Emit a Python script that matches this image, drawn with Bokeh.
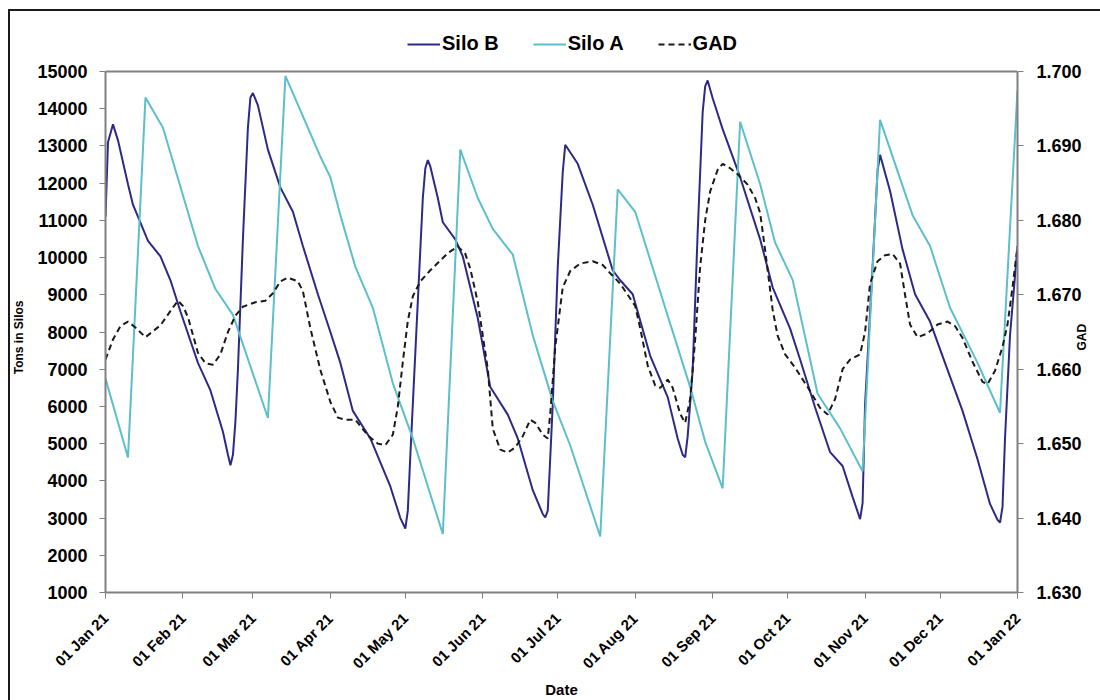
import math
import pandas as pd
from bokeh.plotting import figure
from bokeh.models import (Range1d, LinearAxis, FixedTicker, DatetimeTickFormatter,
                          NumeralTickFormatter, Legend, LegendItem, Span, InlineStyleSheet)
from bokeh.embed import file_html
from bokeh.resources import INLINE

# ---------------- data (x = days since 01 Jan 2021) ----------------
base_date = "2021-01-01"

silo_b_day = [0, 1, 3, 5, 9, 11, 17, 22, 26, 30, 37, 42, 47, 49, 50, 51, 52, 53, 55, 57, 58, 59,
              61, 65, 70, 75, 79, 85, 90, 94, 99, 106, 114, 118, 120, 121, 122, 125, 127, 128, 129,
              130, 133, 135, 140, 143, 149, 154, 161, 165, 171, 175, 176, 177, 179, 181, 183, 184,
              189, 195, 203, 206, 211, 218, 225, 229, 231, 232, 233, 235, 237, 239, 240, 241,
              243, 247, 254, 262, 267, 274, 278, 284, 290, 295, 299, 302, 303, 304, 307, 309, 310,
              314, 319, 324, 330, 337, 343, 349, 354, 357, 358, 359, 360, 362, 365]
silo_b = [11100, 13100, 13580, 13150, 11970, 11420, 10450, 10030, 9390, 8550, 7170, 6430, 5320, 4700, 4420, 4700, 5600, 7000, 10500, 13500, 14300, 14420,
          14090, 12900, 11880, 11230, 10310, 9015, 8000, 7170, 5880, 5140, 3850, 3000, 2720, 3200, 4680, 8830, 11600, 12400, 12620,
          12450, 11600, 10950, 10490, 10030, 8370, 6520, 5780, 5140, 3750, 3110, 3015, 3200, 6060, 9750, 12300, 13030,
          12520, 11420, 9660, 9390, 9015, 7360, 6250, 5140, 4700, 4630, 5200, 6980, 10680, 13910, 14600, 14760,
          14280, 13450, 12160, 10490, 9200, 8090, 7260, 5970, 4770, 4400, 3570, 2970, 3400, 6060, 9750, 12340, 12760,
          11790, 10220, 9015, 8280, 6980, 5880, 4580, 3380, 2950, 2880, 3300, 5140, 7910, 10300]

silo_a_day = [0, 9, 16, 23, 37, 44, 51, 65, 72, 86, 90, 94, 100, 107, 115, 123, 135, 142, 149, 155,
              163, 171, 179, 186, 198, 205, 212, 224, 234, 240, 247, 254, 262, 268, 275, 285, 294,
              303, 310, 323, 330, 338, 349, 358, 365]
silo_a = [6750, 4630, 14300, 13490, 10310, 9155, 8460, 5690, 14880, 12710, 12160, 11140, 9750, 8650, 6620, 5140, 2570, 12900, 11600, 10770,
          10080, 7910, 6150, 4950, 2505, 11830, 11230, 8650, 6520, 5050, 3800, 13650, 11970, 10400, 9400, 6340, 5410,
          4260, 13700, 11140, 10310, 8650, 7170, 5830, 14500]

gad_day = [0, 3, 6, 9, 12, 16, 22, 27, 29, 31, 33, 37, 40, 43, 46, 49, 52, 55, 60, 64, 67, 70, 73, 77, 79,
           82, 86, 90, 93, 96, 100, 105, 109, 112, 115, 117, 119, 121, 123, 126, 130, 137, 141, 144, 146,
           149, 153, 155, 158, 161, 164, 167, 170, 172, 175, 177, 178, 180, 183, 186, 190, 195, 199, 202,
           206, 209, 212, 214, 217, 220, 222, 225, 227, 230, 232, 234, 236, 238, 240, 242, 245, 247, 250,
           253, 257, 260, 262, 264, 267, 269, 272, 276, 281, 286, 289, 292, 295, 298, 302, 304, 306, 309,
           312, 315, 318, 320, 322, 325, 329, 333, 337, 340, 343, 347, 351, 353, 356, 359, 361, 363, 365]
gad = [1.6613, 1.6640, 1.6658, 1.6664, 1.6656, 1.6643, 1.6659, 1.6683, 1.6692, 1.6685, 1.6670, 1.6622, 1.6608, 1.6606, 1.6620, 1.6650, 1.6672, 1.6684, 1.6690, 1.6692, 1.6702, 1.6718, 1.6723, 1.6718, 1.6705,
       1.6655, 1.6599, 1.6556, 1.6535, 1.6532, 1.6532, 1.6511, 1.6500, 1.6498, 1.6512, 1.6550, 1.6610, 1.6665, 1.6698, 1.6718, 1.6733, 1.6756, 1.6765, 1.6755, 1.6735,
       1.6690, 1.6600, 1.6520, 1.6492, 1.6488, 1.6495, 1.6510, 1.6532, 1.6528, 1.6512, 1.6507, 1.6540, 1.6630, 1.6710, 1.6732, 1.6742, 1.6745, 1.6740, 1.6729,
       1.6715, 1.6700, 1.6685, 1.6655, 1.6605, 1.6578, 1.6575, 1.6586, 1.6575, 1.6540, 1.6528, 1.6560, 1.6640, 1.6738, 1.6800, 1.6839, 1.6868, 1.6876, 1.6870,
       1.6862, 1.6848, 1.6830, 1.6810, 1.6760, 1.6680, 1.6645, 1.6620, 1.6602, 1.6576, 1.6548, 1.6539, 1.6560, 1.6600, 1.6613, 1.6620, 1.6650, 1.6715, 1.6745,
       1.6753, 1.6755, 1.6742, 1.6700, 1.6660, 1.6643, 1.6648, 1.6660, 1.6664, 1.6658, 1.6642, 1.6610, 1.6583, 1.6580, 1.6598, 1.6630, 1.6660, 1.6710, 1.6765]

month_ticks = ["2021-01-01", "2021-02-01", "2021-03-01", "2021-04-01", "2021-05-01", "2021-06-01",
               "2021-07-01", "2021-08-01", "2021-09-01", "2021-10-01", "2021-11-01", "2021-12-01",
               "2022-01-01"]
left_ticks = [1000, 2000, 3000, 4000, 5000, 6000, 7000, 8000, 9000, 10000, 11000, 12000, 13000, 14000, 15000]
right_ticks = [1.630, 1.640, 1.650, 1.660, 1.670, 1.680, 1.690, 1.700]

# ---------------- layout constants ----------------
LEFT_MIN, LEFT_MAX = 1000, 15000
RIGHT_MIN, RIGHT_MAX = 1.630, 1.700
PLOT_H = 521        # pixel height of the plotting box (1000..15000)
HEAD_PX = 46        # extra frame space above the plotting box for the legend
left_end = LEFT_MAX + (LEFT_MAX - LEFT_MIN) * HEAD_PX / PLOT_H
right_end = RIGHT_MAX + (RIGHT_MAX - RIGHT_MIN) * HEAD_PX / PLOT_H
PX = (LEFT_MAX - LEFT_MIN) / PLOT_H     # data units per pixel on the left scale
# anchor positions (pixels above the x axis) of the two rotated axis titles
YT_ANCHOR = int(LEFT_MIN + 292 * PX)    # top end of "Tons in Silos"
GAD_ANCHOR = int(LEFT_MIN + 242 * PX)   # bottom end of "GAD"

b0 = pd.Timestamp(base_date)
def to_dates(days):
    return [b0 + pd.Timedelta(days=d) for d in days]

FONT = "Liberation Sans"
C_B = "#2D2A87"
C_A = "#5CBFCB"
C_G = "#1a1a1a"
AX = "#808080"

x_start = pd.Timestamp(month_ticks[0])
x_end = pd.Timestamp(month_ticks[-1])

p = figure(width=1100, height=700, x_axis_type="datetime",
           x_range=Range1d(x_start, x_end), y_range=Range1d(LEFT_MIN, left_end),
           output_backend="svg", toolbar_location=None,
           min_border_left=105, min_border_right=83, min_border_top=25, min_border_bottom=108)
# outer chart-area border (left and top edges visible in the picture)
p.stylesheets = [InlineStyleSheet(css=(
    ":host { position: relative; }"
    ":host::after { content: ''; position: absolute; left: 8px; top: 9px; right: 0; bottom: 0;"
    " border-left: 2px solid #1a1a1a; border-top: 2px solid #1a1a1a;"
    " pointer-events: none; z-index: 100; }"))]
p.extra_y_ranges = {"gad": Range1d(RIGHT_MIN, right_end)}

p.grid.visible = False
p.background_fill_color = "white"
p.border_fill_color = "white"
p.outline_line_color = None

p.add_layout(Span(location=LEFT_MAX, dimension="width", line_color=AX, line_width=2))

rb = p.line(to_dates(silo_b_day), silo_b, line_color=C_B, line_width=2)
ra = p.line(to_dates(silo_a_day), silo_a, line_color=C_A, line_width=2)
rg = p.line(to_dates(gad_day), gad, line_color=C_G, line_width=2, line_dash="6 4",
            y_range_name="gad")

ms = [pd.Timestamp(t).value // 10**6 for t in month_ticks]
xa = p.xaxis[0]
xa.ticker = FixedTicker(ticks=ms)
fmt = "%d %b %y"
xa.formatter = DatetimeTickFormatter(milliseconds=fmt, seconds=fmt, minsec=fmt, minutes=fmt,
                                     hourmin=fmt, hours=fmt, days=fmt, months=fmt, years=fmt)
xa.major_label_orientation = math.pi / 4
xa.axis_label = "Date"

ya = p.yaxis[0]
ya.ticker = FixedTicker(ticks=left_ticks)
ya.bounds = (LEFT_MIN, LEFT_MAX)

ra_axis = LinearAxis(y_range_name="gad", ticker=FixedTicker(ticks=right_ticks),
                     formatter=NumeralTickFormatter(format="0.000"),
                     bounds=(RIGHT_MIN, RIGHT_MAX))
p.add_layout(ra_axis, "right")

for ax in [xa, ya, ra_axis]:
    ax.axis_line_color = AX
    ax.axis_line_width = 2
    ax.major_tick_line_color = AX
    ax.major_tick_line_width = 1
    ax.major_tick_in = 0
    ax.major_tick_out = 6
    ax.minor_tick_line_color = None
    ax.major_label_text_font = FONT
    ax.major_label_text_font_style = "bold"
    ax.major_label_text_color = "black"
    ax.axis_label_text_font = FONT
    ax.axis_label_text_font_style = "bold"
    ax.axis_label_text_color = "black"

xa.major_label_text_font_size = "15px"
xa.major_label_standoff = 17
xa.axis_label_text_font_size = "15px"
xa.axis_label_standoff = 0
ya.major_label_text_font_size = "18px"
ya.major_label_standoff = 12
ra_axis.major_label_text_font_size = "18px"
ra_axis.major_label_standoff = 13

# rotated axis titles, drawn as single labelled ticks of bare axes
def title_axis(anchor, text, standoff):
    a = LinearAxis(ticker=FixedTicker(ticks=[anchor]), major_label_overrides={anchor: text})
    a.axis_line_color = None
    a.major_tick_line_color = None
    a.minor_tick_line_color = None
    a.major_tick_in = 0
    a.major_tick_out = 0
    a.major_label_orientation = math.pi / 2
    a.major_label_standoff = standoff
    a.major_label_text_font = FONT
    a.major_label_text_font_style = "bold"
    a.major_label_text_font_size = "12px"
    a.major_label_text_color = "black"
    return a

p.add_layout(title_axis(YT_ANCHOR, "Tons in Silos", 15), "left")
p.add_layout(title_axis(GAD_ANCHOR, "GAD", -2), "right")

legend = Legend(items=[LegendItem(label="Silo B", renderers=[rb]),
                       LegendItem(label="Silo A", renderers=[ra]),
                       LegendItem(label="GAD", renderers=[rg])],
                orientation="horizontal", location=(302, 537),
                border_line_color=None, background_fill_alpha=0,
                label_text_font=FONT, label_text_font_style="bold",
                label_text_font_size="20px", label_text_color="black",
                glyph_width=33, glyph_height=20, label_height=20,
                label_standoff=2, spacing=34, padding=0, margin=0)
p.add_layout(legend)

open("out.html", "w").write(file_html(p, INLINE))
